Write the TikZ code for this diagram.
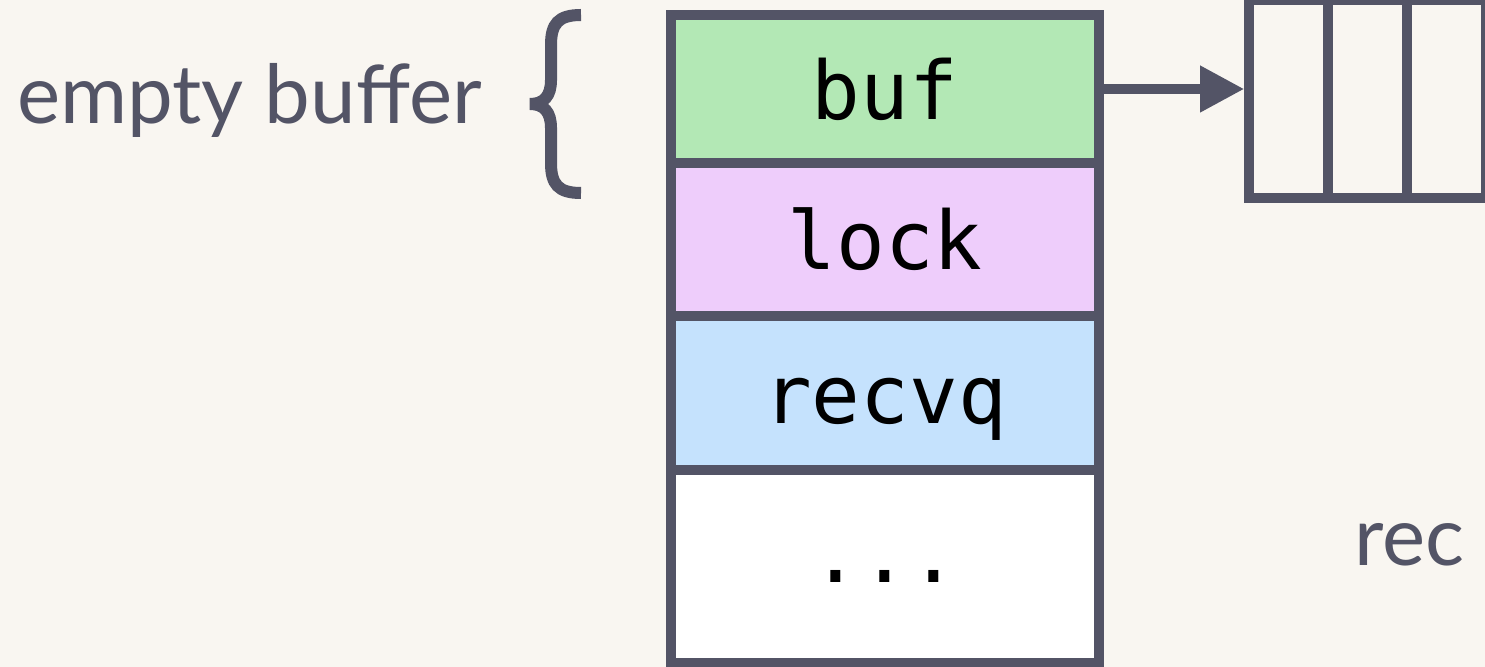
\documentclass[tikz,border=0pt]{standalone}
\usepackage{fontspec}
\setmainfont{Lato}
\newfontfamily\codefont{DejaVu Sans Mono}
\usetikzlibrary{positioning,arrows.meta}
\definecolor{ink}{HTML}{535466}
\definecolor{paper}{HTML}{F9F6F1}
\definecolor{bufgreen}{HTML}{B3E8B5}
\definecolor{lockpurple}{HTML}{EECDFB}
\definecolor{queueblue}{HTML}{C5E2FD}

\begin{document}
\begin{tikzpicture}[
  x=0.01cm, y=-0.01cm,
  every node/.style={font=\fontsize{23.2}{28}\selectfont, text=ink},
  field/.style={rectangle, draw=ink, line width=0.1cm, minimum width=4.28cm,
                inner sep=0pt, outer sep=0pt, text=black,
                font=\codefont\fontsize{23}{27}\selectfont,
                text height=0.6cm, text depth=0pt},
  cell/.style={rectangle, draw=ink, line width=0.1cm, minimum width=0.79cm,
               minimum height=1.98cm, inner sep=0pt, outer sep=0pt},
  arr/.style={-{Triangle[length=0.44cm, width=0.44cm]}, draw=ink, line width=0.1cm}
]
\useasboundingbox (0,0) rectangle (1485,667);
\fill[paper] (0,0) rectangle (1485,667);
\clip (0,0) rectangle (1485,667);

% struct fields
\node[field, fill=bufgreen,   minimum height=1.48cm] (buf) at (885,89) {buf};
\node[field, fill=lockpurple, minimum height=1.53cm, below=0pt of buf]   (lock)  {lock};
\node[field, fill=queueblue,  minimum height=1.54cm, below=0pt of lock]  (recvq) {recvq};
\node[field, fill=white,      minimum height=1.93cm, text height=0.31cm,
      below=0pt of recvq] (rest) {...};

% buffer slots
\node[cell] (cell1) at (1288.75,99) {};
\node[cell, right=0pt of cell1] (cell2) {};
\node[cell, right=0pt of cell2] (cell3) {};

\draw[arr, shorten >=0.05cm] (buf.east) -- (buf.east -| cell1.west);

% brace and labels
\draw[ink, line width=0.12cm, line join=miter]
  (581,15) .. controls (558,15) and (551,24) .. (551,45) -- (551,80)
  .. controls (551,96) and (544,104) .. (530,104)
  .. controls (544,104) and (551,112) .. (551,128) -- (551,163)
  .. controls (551,184) and (558,193) .. (581,193);
\node[anchor=base east] (emptylbl) at (494,124) {empty buffer};
\node[anchor=base west] (reclbl)   at (1342,565) {rec};

\end{tikzpicture}
\end{document}
